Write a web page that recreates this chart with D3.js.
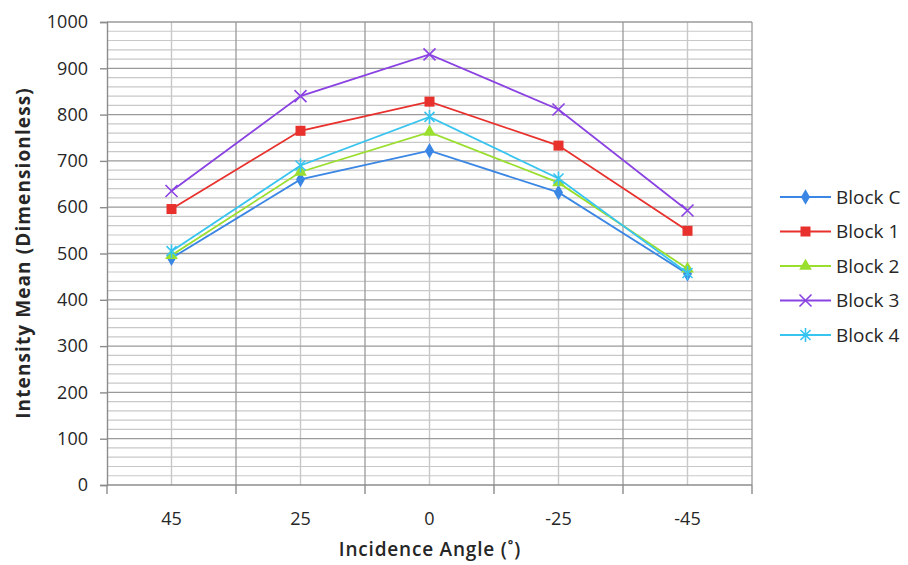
<!DOCTYPE html>
<html><head><meta charset="utf-8">
<script src="https://cdn.jsdelivr.net/npm/d3@7"></script>
<style>
html,body{margin:0;padding:0;background:#fff;}
svg text{font-family:"Open Sans",sans-serif;fill:#262626;}
</style></head>
<body><svg id="c" width="908" height="565"></svg>
<script>
const categories = ["45","25","0","-25","-45"];
const seriesNames = ["Block C","Block 1","Block 2","Block 3","Block 4"];
const blockC = [490, 660, 722, 632, 456];
const block1 = [596, 765, 828, 733, 549];
const block2 = [496, 676, 762, 653, 467];
const block3 = [635, 840, 930, 811, 593];
const block4 = [505, 690, 795, 662, 458];
const seriesColors = ["#3a86e4","#e8302c","#9ade2e","#8a42e2","#38c4f0"];
const seriesMarkers = ["diamond","square","triangle","x","star"];
const yTicks = [0,100,200,300,400,500,600,700,800,900,1000];

const allValues = [blockC, block1, block2, block3, block4];
const svg = d3.select("#c");
const L = 107, R = 752, T = 22, B = 485;

const xBand = d3.scaleBand().domain(categories).range([L, R]).paddingInner(0).paddingOuter(0);
const x = c => xBand(c) + xBand.bandwidth()/2;
const y = d3.scaleLinear().domain([0, 1000]).range([B, T]);

// minor horizontal grid
const minor = d3.range(0, 1001, 20).filter(v => v % 100 !== 0);
svg.append("g").selectAll("line").data(minor).join("line")
  .attr("x1", L).attr("x2", R).attr("y1", d => y(d)).attr("y2", d => y(d))
  .attr("stroke", "#c8c8c8").attr("stroke-width", 1.2);
// vertical lines at category centers (light)
svg.append("g").selectAll("line").data(categories).join("line")
  .attr("x1", d => x(d)).attr("x2", d => x(d)).attr("y1", T).attr("y2", B)
  .attr("stroke", "#c8c8c8").attr("stroke-width", 1.4);
// major horizontal grid
svg.append("g").selectAll("line").data(yTicks.filter(v => v > 0)).join("line")
  .attr("x1", L).attr("x2", R).attr("y1", d => y(d)).attr("y2", d => y(d))
  .attr("stroke", "#9a9a9a").attr("stroke-width", 1.3);
// vertical boundaries (darker)
const bounds = categories.map(c => xBand(c)).concat([R]);
svg.append("g").selectAll("line").data(bounds.slice(1)).join("line")
  .attr("x1", d => d).attr("x2", d => d).attr("y1", T).attr("y2", B)
  .attr("stroke", "#9a9a9a").attr("stroke-width", 1.3);

// axes
const yAxis = d3.axisLeft(y).tickValues(yTicks).tickFormat(d3.format("d")).tickSize(7).tickPadding(12);
const gy = svg.append("g").attr("transform", `translate(${L},0)`).call(yAxis);
gy.select(".domain").attr("stroke", "#8c8c8c").attr("stroke-width", 1.4);
gy.selectAll(".tick line").attr("stroke", "#8c8c8c").attr("stroke-width", 1.4);
gy.selectAll("text").attr("font-size", 18).attr("fill", "#262626").style("font-family", "Open Sans, sans-serif");

const xAxisG = svg.append("g").attr("transform", `translate(0,${B})`);
xAxisG.append("line").attr("x1", L).attr("x2", R).attr("stroke", "#8c8c8c").attr("stroke-width", 1.4);
xAxisG.selectAll(".bt").data(bounds).join("line").attr("class","bt")
  .attr("x1", d => d).attr("x2", d => d).attr("y1", 0).attr("y2", 9)
  .attr("stroke", "#8c8c8c").attr("stroke-width", 1.4);
xAxisG.selectAll(".xl").data(categories).join("text").attr("class","xl")
  .attr("x", d => x(d)).attr("y", 40).attr("text-anchor", "middle")
  .attr("font-size", 18).text(d => d);

// titles
svg.append("text").attr("x", 430).attr("y", 556).attr("text-anchor", "middle")
  .attr("font-size", 19).attr("font-weight", 600).attr("letter-spacing", 0.8).text("Incidence Angle (˚)");
svg.append("text").attr("transform", "translate(30,253) rotate(-90)").attr("text-anchor", "middle")
  .attr("font-size", 19).attr("font-weight", 700).attr("letter-spacing", 1.1).text("Intensity Mean (Dimensionless)");

// marker drawing
function marker(g, type, color) {
  if (type === "diamond") {
    g.append("path").attr("d", d3.symbol(d3.symbolDiamond, 70)()).attr("fill", color);
  } else if (type === "square") {
    g.append("rect").attr("x", -5).attr("y", -5).attr("width", 10).attr("height", 10).attr("fill", color);
  } else if (type === "triangle") {
    g.append("path").attr("d", d3.symbol(d3.symbolTriangle, 70)()).attr("fill", color);
  } else if (type === "x") {
    g.append("path").attr("d", "M-6,-6L6,6M-6,6L6,-6").attr("stroke", color).attr("stroke-width", 1.6).attr("fill", "none");
  } else if (type === "star") {
    g.append("path").attr("d", "M-5,-5L5,5M-5,5L5,-5M0,-7L0,7").attr("stroke", color).attr("stroke-width", 1.6).attr("fill", "none");
  }
}

const line = d3.line().x((d, i) => x(categories[i])).y(d => y(d));
allValues.forEach((vals, si) => {
  const g = svg.append("g");
  g.append("path").datum(vals).attr("d", line).attr("fill", "none")
    .attr("stroke", seriesColors[si]).attr("stroke-width", 1.8);
  vals.forEach((v, i) => {
    marker(g.append("g").attr("transform", `translate(${x(categories[i])},${y(v)})`), seriesMarkers[si], seriesColors[si]);
  });
});

// legend
const legend = svg.append("g");
seriesNames.forEach((name, i) => {
  const ly = 197 + i * 34.5;
  const g = legend.append("g").attr("transform", `translate(0,${ly})`);
  g.append("line").attr("x1", 780).attr("x2", 831).attr("stroke", seriesColors[i]).attr("stroke-width", 1.8);
  marker(g.append("g").attr("transform", "translate(805.5,0)"), seriesMarkers[i], seriesColors[i]);
  g.append("text").attr("x", 836).attr("y", 0).attr("dy", "0.36em").attr("font-size", 19).text(name);
});
</script></body></html>
